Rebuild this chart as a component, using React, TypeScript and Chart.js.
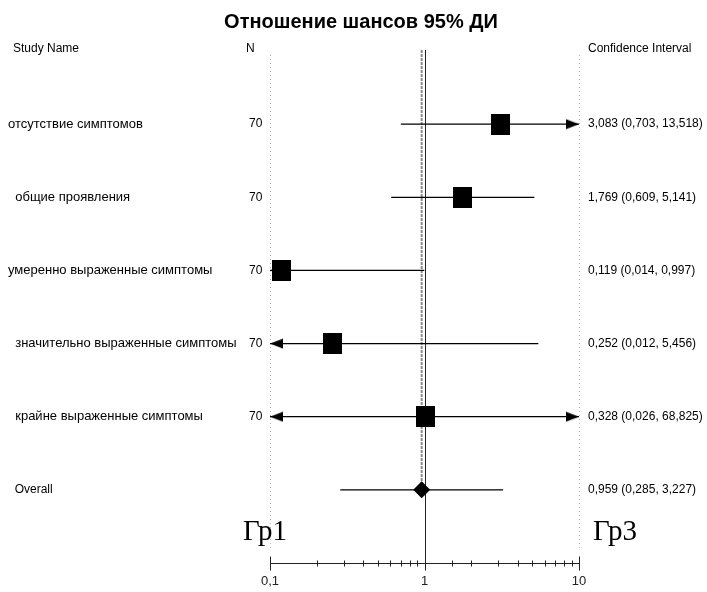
import React, { useEffect, useRef } from 'react';
import { Chart, registerables } from 'chart.js';

Chart.register(...registerables);

// ---------- data ----------
const chartTitle = 'Отношение шансов 95% ДИ';
const headerLabels = ['Study Name', 'N', 'Confidence Interval'];
const studyNames = [
  'отсутствие симптомов',
  '  общие проявления',
  'умеренно выраженные симптомы',
  '  значительно выраженные симптомы',
  '  крайне выраженные симптомы',
  '  Overall',
];
const nValues = ['70', '70', '70', '70', '70', ''];
const oddsRatios = [3.083, 1.769, 0.119, 0.252, 1.02, 0.959];
const lowerCI = [0.703, 0.609, 0.014, 0.012, 0.026, 0.285];
const upperCI = [13.518, 5.141, 0.997, 5.456, 68.825, 3.227];
const ciLabels = [
  '3,083 (0,703, 13,518)',
  '1,769 (0,609, 5,141)',
  '0,119 (0,014, 0,997)',
  '0,252 (0,012, 5,456)',
  '0,328 (0,026, 68,825)',
  '0,959 (0,285, 3,227)',
];
const axisMin = 0.1;
const axisMax = 10;
const axisTickValues = [0.1, 1, 10];
const axisTickLabels = ['0,1', '1', '10'];
const groupLabels = ['Гр1', 'Гр3'];
const overallIndex = 5;

// ---------- helpers ----------
function makeSquare(): HTMLCanvasElement {
  const c = document.createElement('canvas');
  c.width = 19;
  c.height = 21;
  const g = c.getContext('2d')!;
  g.fillStyle = '#000';
  g.fillRect(0, 0, 19, 21);
  return c;
}

function makeArrow(dir: 'left' | 'right'): HTMLCanvasElement {
  const c = document.createElement('canvas');
  c.width = 28;
  c.height = 11;
  const g = c.getContext('2d')!;
  g.fillStyle = '#000';
  g.beginPath();
  if (dir === 'right') {
    g.moveTo(1, 0.5);
    g.lineTo(14, 5.5);
    g.lineTo(1, 10.5);
  } else {
    g.moveTo(27, 0.5);
    g.lineTo(14, 5.5);
    g.lineTo(27, 10.5);
  }
  g.closePath();
  g.fill();
  return c;
}

const overlayPlugin = {
  id: 'forestOverlay',
  beforeDatasetsDraw(chart: any) {
    const { ctx, chartArea } = chart;
    const xs = chart.scales.x;
    const ys = chart.scales.y;
    ctx.save();
    // dotted boundary lines
    ctx.strokeStyle = '#b8b8b8';
    ctx.lineWidth = 1;
    ctx.setLineDash([1, 3]);
    [axisMin, axisMax].forEach((v) => {
      const px = Math.round(xs.getPixelForValue(v)) + 0.5;
      ctx.beginPath();
      ctx.moveTo(px, chartArea.top + 4);
      ctx.lineTo(px, chartArea.bottom - 15);
      ctx.stroke();
    });
    // dashed overall line
    ctx.strokeStyle = '#8a8a8a';
    ctx.setLineDash([3, 1]);
    ctx.lineWidth = 2;
    const po = xs.getPixelForValue(oddsRatios[overallIndex]);
    ctx.beginPath();
    ctx.moveTo(po, chartArea.top - 1);
    ctx.lineTo(po, ys.getPixelForValue(overallIndex));
    ctx.stroke();
    // null line at 1
    ctx.setLineDash([]);
    ctx.lineWidth = 1;
    ctx.strokeStyle = '#222';
    const p1 = Math.round(xs.getPixelForValue(1)) + 0.5;
    ctx.beginPath();
    ctx.moveTo(p1, chartArea.top - 1);
    ctx.lineTo(p1, chartArea.bottom);
    ctx.stroke();
    ctx.restore();
  },
  afterDraw(chart: any) {
    const { ctx, chartArea } = chart;
    const xs = chart.scales.x;
    const ys = chart.scales.y;
    ctx.save();
    // axis line and ticks
    const ay = chartArea.bottom + 0.5;
    ctx.strokeStyle = '#222';
    ctx.lineWidth = 1;
    ctx.beginPath();
    ctx.moveTo(xs.getPixelForValue(axisMin), ay);
    ctx.lineTo(xs.getPixelForValue(axisMax), ay);
    ctx.stroke();
    xs.ticks.forEach((t: any) => {
      const px = Math.round(xs.getPixelForValue(t.value)) + 0.5;
      const lg = Math.log10(t.value);
      const major = Math.abs(lg - Math.round(lg)) < 1e-6;
      const h = major ? 7 : 3;
      ctx.beginPath();
      ctx.moveTo(px, ay - h);
      ctx.lineTo(px, ay + h);
      ctx.stroke();
    });

    // title
    ctx.fillStyle = '#000';
    ctx.textBaseline = 'middle';
    ctx.textAlign = 'center';
    ctx.font = 'bold 20px "Liberation Sans", Arial, sans-serif';
    ctx.fillText(chartTitle, 361, 22);

    // headers
    const latin = '12px "Liberation Sans", Arial, sans-serif';
    const cyr = '13px "Liberation Sans", Arial, sans-serif';
    ctx.font = latin;
    ctx.textAlign = 'left';
    ctx.fillText(headerLabels[0], 13, 49);
    ctx.fillText(headerLabels[1], 246, 49);
    ctx.fillText(headerLabels[2], 588, 49);

    // rows
    studyNames.forEach((name, i) => {
      const y = ys.getPixelForValue(i);
      ctx.font = /[\u0400-\u04FF]/.test(name) ? cyr : latin;
      ctx.fillText(name, 8, y);
      ctx.font = latin;
      if (nValues[i]) ctx.fillText(nValues[i], 249, y);
      ctx.fillText(ciLabels[i], 588, y);
    });

    // group labels
    ctx.font = '29px "Liberation Serif", "Times New Roman", serif';
    ctx.textBaseline = 'alphabetic';
    ctx.fillText(groupLabels[0], 243, 540);
    ctx.fillText(groupLabels[1], 593, 540);
    ctx.restore();
  },
};

export default function App() {
  const ref = useRef<HTMLCanvasElement>(null);

  useEffect(() => {
    document.body.style.margin = '0';
    const square = makeSquare();
    const rightArrow = makeArrow('right');
    const leftArrow = makeArrow('left');

    const markerData = oddsRatios
      .map((v, i) => ({ x: v, y: i }))
      .filter((_, i) => i !== overallIndex);
    const rightArrows = upperCI
      .map((v, i) => ({ x: axisMax, y: i, over: v > axisMax }))
      .filter((p) => p.over)
      .map(({ x, y }) => ({ x, y }));
    const leftArrows = lowerCI
      .map((v, i) => ({ x: axisMin, y: i, under: v < axisMin }))
      .filter((p) => p.under)
      .map(({ x, y }) => ({ x, y }));

    const lineSets = oddsRatios.map((_, i) => ({
      type: 'scatter' as const,
      data: [
        { x: Math.max(lowerCI[i], axisMin), y: i },
        { x: Math.min(upperCI[i], axisMax), y: i },
      ],
      showLine: true,
      borderColor: '#000',
      borderWidth: 1.2,
      pointRadius: 0,
      pointHoverRadius: 0,
      order: 3,
    }));

    const chart = new Chart(ref.current!, {
      type: 'scatter',
      data: {
        datasets: [
          {
            data: markerData,
            pointStyle: square as any,
            pointRadius: 10,
            order: 0,
          },
          {
            data: [{ x: oddsRatios[overallIndex], y: overallIndex }],
            pointStyle: 'rectRot',
            pointRadius: 8.5,
            backgroundColor: '#000',
            borderColor: '#000',
            borderWidth: 0,
            order: 0,
          },
          {
            data: rightArrows,
            pointStyle: rightArrow as any,
            pointRadius: 7,
            order: 1,
          },
          {
            data: leftArrows,
            pointStyle: leftArrow as any,
            pointRadius: 7,
            order: 1,
          },
          ...lineSets,
        ] as any,
      },
      options: {
        animation: false,
        responsive: false,
        devicePixelRatio: 1,
        layout: { padding: { left: 270, right: 128, top: 51, bottom: 0 } },
        plugins: {
          legend: { display: false },
          tooltip: { enabled: false },
          title: { display: false },
        },
        events: [],
        scales: {
          x: {
            type: 'logarithmic',
            min: axisMin,
            max: axisMax,
            grid: { display: false },
            border: { display: false },
            ticks: {
              autoSkip: false,
              maxRotation: 0,
              minRotation: 0,
              padding: 3,
              color: '#222',
              font: { family: '"Liberation Sans", Arial, sans-serif', size: 13 },
              callback: (v: any) => {
                const n = Number(v);
                const idx = axisTickValues.findIndex(
                  (tv) => Math.abs(Math.log10(n) - Math.log10(tv)) < 1e-6
                );
                return idx >= 0 ? axisTickLabels[idx] : '';
              },
            },
            afterFit: (s: any) => {
              s.height = 29;
            },
          },
          y: {
            type: 'linear',
            min: -1,
            max: 6,
            reverse: true,
            display: false,
          },
        },
      },
      plugins: [overlayPlugin],
    });
    return () => chart.destroy();
  }, []);

  return (
    <div style={{ width: 707, height: 592, background: '#fff' }}>
      <canvas ref={ref} width={707} height={592} style={{ display: 'block' }} />
    </div>
  );
}
